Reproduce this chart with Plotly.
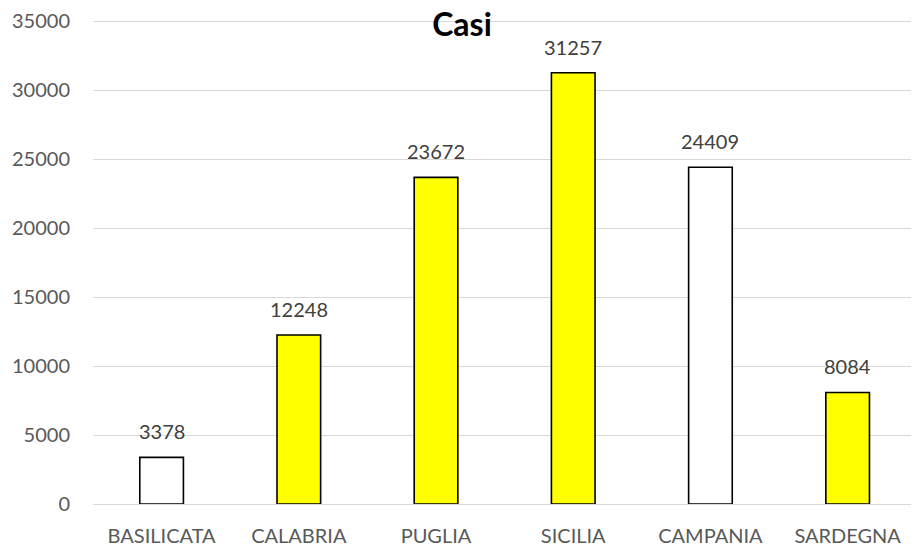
import plotly.graph_objects as go

regions = ["BASILICATA", "CALABRIA", "PUGLIA", "SICILIA", "CAMPANIA", "SARDEGNA"]
cases = [3378, 12248, 23672, 31257, 24409, 8084]
bar_colors = ["#FFFFFF", "#FFFF00", "#FFFF00", "#FFFF00", "#FFFFFF", "#FFFF00"]
y_ticks = [0, 5000, 10000, 15000, 20000, 25000, 30000, 35000]

FONT = "Lato"
# page body has an 8px margin; figure is sized to fit the remaining window
W, H = 911, 539

fig = go.Figure()
fig.add_trace(go.Bar(
    x=regions, y=cases, width=0.318,
    marker=dict(color=bar_colors, line=dict(color="#000000", width=1.6)),
    hoverinfo="x+y",
))

for r, v in zip(regions, cases):
    fig.add_annotation(x=r, y=v, text=str(v), showarrow=False,
                       yanchor="bottom", yshift=12,
                       font=dict(family=FONT, size=20, color="#404040"))

fig.update_layout(
    width=W, height=H,
    margin=dict(l=85, r=0, t=11, b=42),
    paper_bgcolor="white", plot_bgcolor="white",
    showlegend=False,
    title=dict(text="<b>Casi</b>", x=454 / W, xanchor="center",
               y=1 - 17 / H, yanchor="middle",
               font=dict(family=FONT, size=32, color="#000000")),
    xaxis=dict(range=[-0.5, 5.52], showgrid=False, showline=False,
               zeroline=False, ticks="", ticklabelstandoff=18,
               tickfont=dict(family=FONT, size=20, color="#595959")),
    yaxis=dict(range=[0, 35080], tickvals=y_ticks, showgrid=True,
               gridcolor="#D9D9D9", gridwidth=1.3, zeroline=True,
               zerolinecolor="#D9D9D9", zerolinewidth=1.3,
               showline=False, ticks="", ticklabelstandoff=22,
               ticklabeloverflow="allow", tickformat="d",
               tickfont=dict(family=FONT, size=20, color="#595959")),
)

fig.write_html("out.html")
